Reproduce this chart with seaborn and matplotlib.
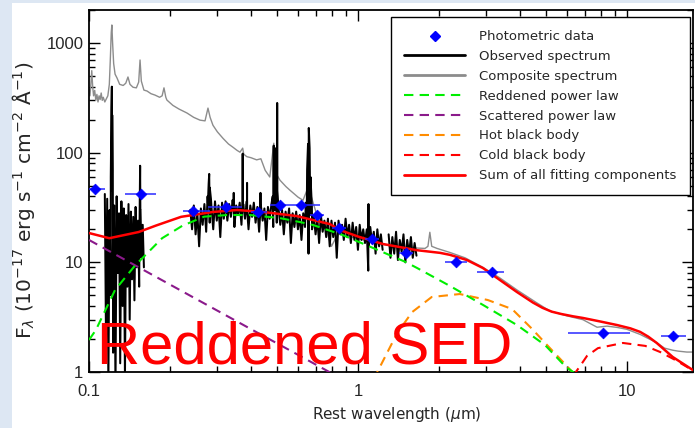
import numpy as np
import matplotlib
matplotlib.use("Agg")
import matplotlib.pyplot as plt
import seaborn as sns
from matplotlib.patches import Rectangle
from matplotlib.lines import Line2D
from matplotlib.ticker import FixedLocator, LogLocator, NullFormatter

# ---------------- data ----------------
# Photometric data: wavelength, flux, lower/upper wavelength of the band
phot_wl = [0.1053, 0.156, 0.2435, 0.323, 0.425, 0.513, 0.614, 0.704, 0.850, 1.127, 1.508, 2.314, 3.148, 8.14, 14.8]
phot_f = [46.6, 42.0, 29.4, 31.9, 28.7, 33.3, 33.3, 27.0, 20.5, 16.3, 12.2, 10.06, 8.16, 2.27, 2.13]
phot_lo = [0.100, 0.136, 0.2236, 0.277, 0.400, 0.471, 0.560, 0.665, 0.800, 1.06, 1.42, 2.106, 2.77, 6.04, 13.4]
phot_hi = [0.1147, 0.1774, 0.2818, 0.3705, 0.460, 0.560, 0.722, 0.745, 0.900, 1.20, 1.60, 2.543, 3.49, 10.26, 16.6]

# Composite spectrum (grey)
comp_wl = [0.1000, 0.1008, 0.1016, 0.1024, 0.1032, 0.1040, 0.1050, 0.1060, 0.1070, 0.1080,
           0.1090, 0.1100, 0.1110, 0.1120, 0.1130, 0.1145, 0.1160, 0.1175, 0.1190, 0.1200,
           0.1210, 0.1216, 0.1224, 0.1235, 0.1250, 0.1271, 0.1300, 0.1340, 0.1370, 0.1396,
           0.1420, 0.1458, 0.1500, 0.1530, 0.1548, 0.1565, 0.1600, 0.1643, 0.1700, 0.1760,
           0.1830, 0.1870, 0.1900, 0.1930, 0.1948, 0.2050, 0.2160, 0.2313, 0.2450, 0.2586,
           0.2700, 0.2769, 0.2820, 0.2889, 0.3000, 0.3150, 0.3300, 0.3431, 0.3550, 0.3642,
           0.3727, 0.3760, 0.3860, 0.4000, 0.4200, 0.4355, 0.4519, 0.4700, 0.4864, 0.4950,
           0.5132, 0.5400, 0.5584, 0.5986, 0.6246, 0.6450, 0.6563, 0.6700, 0.7000, 0.7220,
           0.7600, 0.7970, 0.8500, 0.9500, 1.0500, 1.1500, 1.2500, 1.3500, 1.4500, 1.5500,
           1.6500, 1.7760, 1.8200, 1.8500, 1.8800, 1.9660, 2.1980, 2.5000, 2.9150, 3.3700,
           3.9000, 4.6300, 5.1700, 5.9800, 6.8600, 7.7400, 8.4300, 9.1900, 10.000, 11.200,
           12.900, 13.800, 14.800, 15.500, 16.700, 17.600]
comp_f = [380, 330, 420, 560, 400, 330, 370, 300, 340, 290,
          330, 305, 350, 300, 320, 290, 310, 330, 420, 700,
          1250, 1460, 1000, 650, 520, 480, 420, 410, 430, 490,
          420, 395, 390, 440, 700, 450, 372, 365, 345, 335,
          320, 330, 390, 320, 302, 270, 250, 230, 210, 198,
          195, 255, 210, 178, 155, 135, 120, 112, 105, 101,
          110, 97, 92, 90, 86, 88, 69, 60, 122, 65,
          56, 49, 45.5, 39.3, 36.8, 45, 70, 40, 28, 26,
          20, 14, 19, 17, 16, 15, 14.5, 14, 13.5, 13,
          13.5, 13.4, 14, 18.8, 14, 13.4, 12.3, 11.0, 9.0, 7.2,
          5.6, 4.26, 3.6, 3.25, 3.0, 2.56, 2.62, 2.55, 2.45, 2.2,
          1.85, 1.65, 1.58, 1.55, 1.52, 1.52]

# Observed spectrum (black): three pieces, regularly sampled + emission lines
obs1_range = (0.1145, 0.160)
obs1_f = [42, 2.0, 38, 0.8, 30, 5, 45, 1.5, 33, 0.7, 40, 8, 28, 1.2, 36, 4, 31, 0.9,
          27, 6, 34, 3, 29, 7, 26, 4.5, 32, 9, 24, 6, 30, 11, 22, 9]
obs1_line_wl = [0.1205, 0.1212, 0.1216, 0.1220, 0.1226, 0.1544, 0.1549, 0.1554]
obs1_line_f = [60, 250, 400, 220, 70, 35, 76, 30]

obs2_range = (0.238, 1.235)
obs2_f = [30, 20, 33, 18, 28, 14, 31, 22, 34, 19,
          35, 23, 32, 20, 36, 24, 33, 17, 35, 25,
          36, 24, 34, 26, 37, 21, 33, 27, 35, 22,
          34, 25, 36, 20, 33, 26, 35, 23, 32, 19,
          33, 24, 31, 16, 32, 25, 34, 21, 30, 23,
          31, 22, 30, 18, 29, 23, 31, 15, 28, 21,
          29, 20, 27, 16, 28, 21, 26, 12, 27, 20,
          26, 18, 25, 15, 27, 19, 24, 17, 25, 14,
          24, 17, 23, 11, 24, 18, 22, 16, 25, 17,
          22, 15, 23, 16, 21, 13, 22, 16, 20, 15,
          20, 14, 21, 15, 19, 12, 20, 14, 18, 13]
obs2_line_wl = [0.2760, 0.2785, 0.2798, 0.2812, 0.2840, 0.3448, 0.3452, 0.3456,
                0.3722, 0.3727, 0.3732, 0.3866, 0.3869, 0.3872, 0.4337, 0.4340, 0.4344,
                0.4820, 0.4845, 0.4861, 0.4880, 0.4910, 0.4955, 0.4959, 0.4964,
                0.5002, 0.5007, 0.5012, 0.640, 0.647, 0.652, 0.6563, 0.661, 0.666, 0.674,
                1.0920, 1.0940, 1.0960]
obs2_line_f = [40, 52, 64, 48, 38, 30, 43, 28,
               35, 98, 30, 32, 53, 30, 30, 43, 28,
               40, 80, 116, 70, 35, 40, 110, 45,
               40, 284, 45, 35, 70, 120, 168, 110, 60, 32,
               8.4, 34, 14]

obs3_range = (1.30, 1.65)
obs3_f = [18, 11, 17, 12, 19, 10.5, 16, 12.5, 18, 10, 16, 12, 17, 11, 15, 11.5]

# Model components
red_pl_wl = [0.100, 0.106, 0.125, 0.148, 0.187, 0.222, 0.268, 0.326, 0.397, 0.513, 0.609,
             0.681, 0.879, 1.19, 1.50, 1.66, 2.20, 2.92, 3.90, 4.96, 5.93, 6.50]
red_pl_f = [1.96, 2.41, 5.6, 9.3, 16.6, 21.5, 26.1, 27.0, 27.0, 25.3, 23.3,
            21.9, 17.7, 12.9, 10.1, 8.87, 6.08, 4.08, 2.68, 1.76, 1.11, 0.95]

scat_pl_wl = [0.10, 0.15, 0.25, 0.40, 0.60, 0.80]
scat_pl_f = [16.0, 9.25, 4.64, 2.46, 1.43, 0.97]

hot_bb_wl = [1.15, 1.18, 1.40, 1.59, 1.88, 2.39, 3.04, 3.74, 4.44, 5.08, 5.83, 6.27, 6.50]
hot_bb_f = [0.85, 1.0, 2.27, 3.52, 4.83, 5.14, 4.53, 3.75, 2.47, 1.73, 1.21, 1.0, 0.9]

cold_bb_wl = [6.30, 6.69, 7.10, 7.80, 9.66, 11.7, 13.3, 15.1, 17.5, 18.5]
cold_bb_f = [0.92, 1.13, 1.40, 1.65, 1.84, 1.73, 1.52, 1.29, 1.04, 0.95]

sum_wl = [0.100, 0.119, 0.153, 0.177, 0.220, 0.289, 0.355, 0.4435, 0.593, 0.787, 0.857,
          1.0, 1.238, 1.657, 2.02, 2.198, 2.54, 2.915, 3.37, 3.90, 4.47, 4.85, 5.25, 5.70,
          6.30, 6.86, 8.0, 9.19, 10.3, 11.2, 12.0, 12.9, 14.8, 17.6]
sum_f = [18.5, 16.6, 18.9, 21.6, 26.0, 28.8, 30.0, 28.8, 26.4, 22.3, 19.7,
         17.2, 14.7, 12.9, 12.2, 11.7, 10.5, 8.87, 6.90, 5.36, 4.30, 3.85, 3.55, 3.38,
         3.22, 3.11, 2.88, 2.68, 2.50, 2.32, 2.10, 1.84, 1.37, 1.04]

x_ticks = [0.1, 1, 10]
x_tick_labels = ["0.1", "1", "10"]
y_ticks = [1, 10, 100, 1000]
y_tick_labels = ["1", "10", "100", "1000"]

legend_labels = ["Photometric data", "Observed spectrum", "Composite spectrum",
                 "Reddened power law", "Scattered power law", "Hot black body",
                 "Cold black body", "Sum of all fitting components"]

# ---------------- figure ----------------
sns.set_style("ticks")
plt.rcParams['font.family'] = ['DejaVu Sans']

W, H = 695, 428
fig = plt.figure(figsize=(W / 100, H / 100), dpi=100)
fig.patch.set_facecolor('#dde7f3')
fig.patches.append(Rectangle((12 / W, 0), 1 - 12 / W, 1 - 3 / H, transform=fig.transFigure,
                             facecolor='white', edgecolor='none', zorder=-5))
ax = fig.add_axes([89 / W, 56 / H, 604 / W, 362 / H])
ax.set_zorder(2)
ax.set_facecolor('white')


def piece(rng, flux, lwl=(), lf=()):
    wl = np.geomspace(rng[0], rng[1], len(flux))
    w = np.concatenate([wl, np.asarray(lwl, float)])
    f = np.concatenate([np.asarray(flux, float), np.asarray(lf, float)])
    o = np.argsort(w)
    return w[o], f[o]


GREEN, PURPLE, ORANGE, RED = '#00ee00', '#8b1a8b', '#ff8c00', '#ff0000'
dash = (4.5, 3)

sns.lineplot(x=comp_wl, y=comp_f, ax=ax, color='#8c8c8c', lw=1.0, estimator=None, zorder=2)
for rng, fl, lw_, lf_ in [(obs1_range, obs1_f, obs1_line_wl, obs1_line_f),
                          (obs2_range, obs2_f, obs2_line_wl, obs2_line_f),
                          (obs3_range, obs3_f, (), ())]:
    w, f = piece(rng, fl, lw_, lf_)
    sns.lineplot(x=w, y=f, ax=ax, color='black', lw=1.45, estimator=None, zorder=3)

for wl, fl, col, z in [(scat_pl_wl, scat_pl_f, PURPLE, 4), (hot_bb_wl, hot_bb_f, ORANGE, 4),
                       (red_pl_wl, red_pl_f, GREEN, 5), (cold_bb_wl, cold_bb_f, RED, 5)]:
    sns.lineplot(x=wl, y=fl, ax=ax, color=col, lw=1.5, estimator=None, zorder=z)
    ax.lines[-1].set_dashes(dash)
sns.lineplot(x=sum_wl, y=sum_f, ax=ax, color=RED, lw=1.8, estimator=None, zorder=6)

pw = np.array(phot_wl)
ax.errorbar(pw, phot_f, xerr=[pw - np.array(phot_lo), np.array(phot_hi) - pw], fmt='none',
            ecolor='#2a2aff', elinewidth=1.1, capsize=0, zorder=7)
sns.scatterplot(x=phot_wl, y=phot_f, ax=ax, marker='D', s=30, color='blue',
                edgecolor='blue', linewidth=0.5, zorder=8)

ax.set_xscale('log')
ax.set_yscale('log')
ax.set_xlim(0.1, 17.6)
ax.set_ylim(1, 2000)

ax.xaxis.set_major_locator(FixedLocator(x_ticks))
ax.yaxis.set_major_locator(FixedLocator(y_ticks))
ax.set_xticklabels(x_tick_labels, fontfamily='Liberation Sans', fontsize=12)
ax.set_yticklabels(y_tick_labels, fontfamily='Liberation Sans', fontsize=12)
ax.xaxis.set_minor_locator(LogLocator(base=10, subs=np.arange(2, 10)))
ax.yaxis.set_minor_locator(LogLocator(base=10, subs=np.arange(2, 10)))
ax.xaxis.set_minor_formatter(NullFormatter())
ax.yaxis.set_minor_formatter(NullFormatter())
ax.tick_params(which='both', direction='in', top=True, right=True, color='black', width=1.0)
ax.tick_params(which='major', length=8)
ax.tick_params(which='minor', length=4)
ax.tick_params(axis='x', which='major', pad=9)
ax.tick_params(axis='y', which='major', pad=4)
for s in ax.spines.values():
    s.set_color('black')
    s.set_linewidth(1.3)

ax.set_xlabel(r"Rest wavelength ($\mu$m)", fontsize=11)
ax.xaxis.set_label_coords((397 - 89) / 604, (372 - 405) / 362)
ax.set_ylabel(r"F$_\lambda$ (10$^{-17}$ erg s$^{-1}$ cm$^{-2}$ Å$^{-1}$)", fontsize=14.5)
ax.yaxis.set_label_coords((37 - 89) / 604, (372 - 200) / 362)

handles = [Line2D([], [], marker='D', color='blue', ls='none', markersize=5),
           Line2D([], [], color='black', lw=2),
           Line2D([], [], color='#8c8c8c', lw=2),
           Line2D([], [], color=GREEN, lw=1.5, dashes=dash),
           Line2D([], [], color=PURPLE, lw=1.5, dashes=dash),
           Line2D([], [], color=ORANGE, lw=1.5, dashes=dash),
           Line2D([], [], color=RED, lw=1.5, dashes=dash),
           Line2D([], [], color=RED, lw=2)]
leg = ax.legend(handles, legend_labels, loc='upper right', bbox_to_anchor=(690 / W, 1 - 17 / H),
                bbox_transform=fig.transFigure, frameon=True, fancybox=False, framealpha=1,
                edgecolor='black', fontsize=9.5, handlelength=4.6, handletextpad=1.1,
                labelspacing=0.52, borderpad=1.0, numpoints=1, borderaxespad=0)
leg.get_frame().set_linewidth(1.0)
leg.set_zorder(10)

fig.text(97 / W, 1 - 363 / H, "Reddened SED", color='red', fontsize=43,
         fontfamily='Liberation Sans', ha='left', va='baseline', zorder=20)

fig.savefig("out.png", dpi=100, facecolor=fig.get_facecolor())
